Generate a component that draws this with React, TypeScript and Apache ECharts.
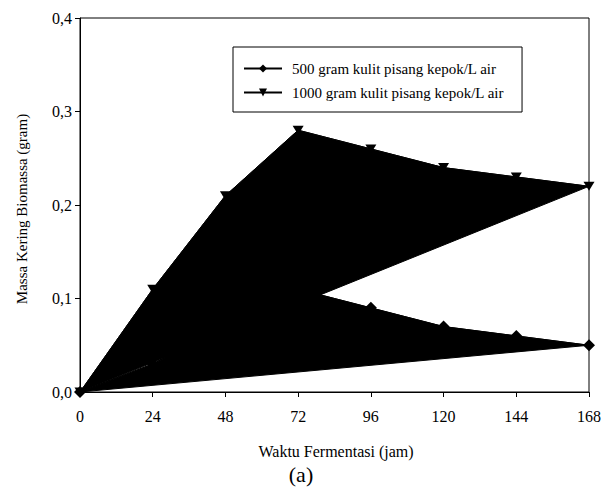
import React, { useEffect, useRef } from "react";
import * as echarts from "echarts";

const hours = [0, 24, 48, 72, 96, 120, 144, 168];
const series500 = [0, 0.03, 0.07, 0.11, 0.09, 0.07, 0.06, 0.05];
const series1000 = [0, 0.11, 0.21, 0.28, 0.26, 0.24, 0.23, 0.22];
const seriesNames = [
  "500 gram kulit pisang kepok/L air",
  "1000 gram kulit pisang kepok/L air",
];
const xTitle = "Waktu Fermentasi (jam)";
const yTitle = "Massa Kering Biomassa (gram)";
const caption = "(a)";

const FONT = "'Liberation Serif', 'Times New Roman', serif";

function polygonSeries(values: number[]) {
  return {
    type: "custom",
    silent: true,
    z: 1,
    clip: true,
    data: hours.map((h, i) => [h, values[i]]),
    renderItem: (params: any, api: any) => {
      if (params.dataIndex !== 0) return null;
      const pts = hours.map((h, i) => api.coord([h, values[i]]));
      return {
        type: "polygon",
        shape: { points: pts },
        style: { fill: "#000", stroke: "#000", lineWidth: 1 },
      };
    },
  };
}

export default function App() {
  const ref = useRef<HTMLDivElement>(null);
  useEffect(() => {
    if (!ref.current) return;
    const chart = echarts.init(ref.current, undefined, { renderer: "svg" });
    chart.setOption({
      animation: false,
      backgroundColor: "#fff",
      textStyle: { fontFamily: FONT, color: "#000" },
      grid: {
        left: 80,
        top: 18,
        right: 27,
        bottom: 96,
        show: true,
        borderColor: "#000",
        borderWidth: 1,
        backgroundColor: "transparent",
      },
      legend: {
        orient: "vertical",
        left: 233,
        top: 47,
        itemWidth: 38,
        itemHeight: 10,
        itemGap: 9,
        padding: [14, 18, 12, 10],
        borderColor: "#000",
        borderWidth: 1,
        borderRadius: 0,
        backgroundColor: "#fff",
        textStyle: { fontFamily: FONT, fontSize: 15, color: "#000", padding: [0, 0, 0, 5] },
        data: seriesNames,
      },
      xAxis: {
        type: "value",
        min: 0,
        max: 168,
        interval: 24,
        axisLine: { show: true, onZero: false, lineStyle: { color: "#000", width: 1 } },
        axisTick: { show: true, inside: false, length: 5, lineStyle: { color: "#000" } },
        splitLine: { show: false },
        axisLabel: { color: "#000", fontFamily: FONT, fontSize: 16, margin: 16 },
      },
      yAxis: {
        type: "value",
        min: 0,
        max: 0.4,
        interval: 0.1,
        axisLine: { show: true, lineStyle: { color: "#000", width: 1 } },
        axisTick: { show: true, inside: false, length: 5, lineStyle: { color: "#000" } },
        splitLine: { show: false },
        axisLabel: {
          color: "#000",
          fontFamily: FONT,
          fontSize: 16,
          margin: 8,
          formatter: (v: number) => v.toFixed(1).replace(".", ","),
        },
      },
      graphic: [
        {
          type: "text",
          x: 22,
          y: 209,
          rotation: Math.PI / 2,
          style: {
            text: yTitle,
            fontFamily: FONT,
            fontSize: 15,
            fill: "#000",
            align: "center",
            verticalAlign: "middle",
          },
        },
        {
          type: "text",
          x: 336,
          y: 451,
          style: {
            text: xTitle,
            fontFamily: FONT,
            fontSize: 16,
            fill: "#000",
            align: "center",
            verticalAlign: "middle",
          },
        },
        {
          type: "text",
          x: 301,
          y: 474,
          style: {
            text: caption,
            fontFamily: FONT,
            fontSize: 22,
            fill: "#000",
            align: "center",
            verticalAlign: "middle",
          },
        },
      ],
      series: [
        polygonSeries(series500),
        polygonSeries(series1000),
        {
          name: seriesNames[0],
          type: "line",
          z: 3,
          data: hours.map((h, i) => [h, series500[i]]),
          symbol: "diamond",
          symbolSize: 12,
          itemStyle: { color: "#000" },
          lineStyle: { color: "#000", width: 1 },
        },
        {
          name: seriesNames[1],
          type: "line",
          z: 3,
          data: hours.map((h, i) => [h, series1000[i]]),
          symbol: "triangle",
          symbolRotate: 180,
          symbolSize: [11, 9],
          itemStyle: { color: "#000" },
          lineStyle: { color: "#000", width: 1 },
        },
      ],
    });
    return () => chart.dispose();
  }, []);
  return (
    <div
      ref={ref}
      style={{ position: "absolute", left: 0, top: 0, width: 616, height: 488 }}
    />
  );
}
